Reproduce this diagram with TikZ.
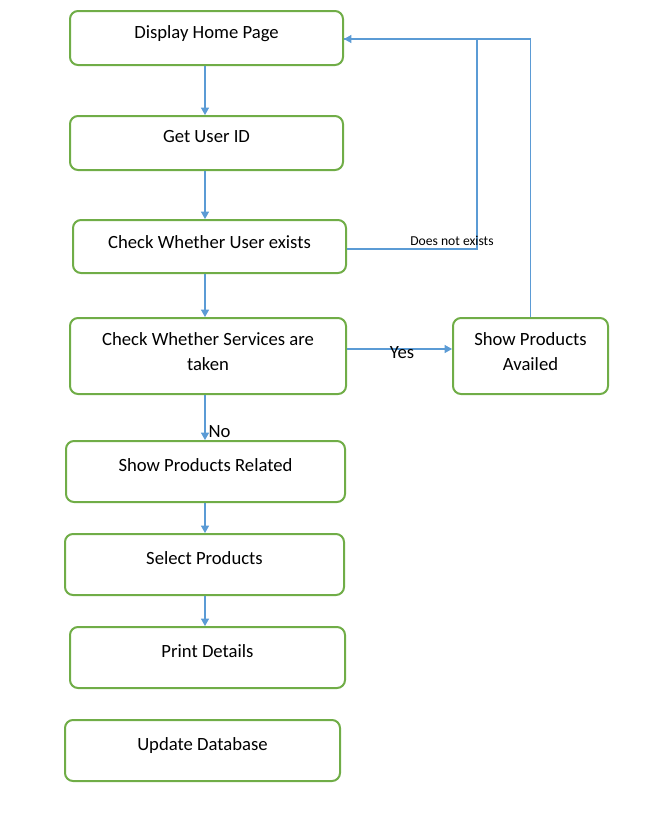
\documentclass[tikz,border=0pt]{standalone}
\usepackage{fontspec}
\setmainfont{Carlito}
\usetikzlibrary{arrows.meta}
\definecolor{boxgreen}{HTML}{70AD47}
\definecolor{linkblue}{HTML}{5B9BD5}
\tikzset{
  stepbox/.style={draw=boxgreen, line width=1.5pt, rounded corners=6pt},
  link/.style={draw=linkblue, line width=0.8pt},
  tip/.style={-{Triangle[length=5.5pt,width=6pt]}},
  steptext/.style={font=\fontsize{14}{18.75}\selectfont, align=center}
}

\begin{document}
\begin{tikzpicture}[x=0.75pt, y=-0.75pt]
  \useasboundingbox (0,0) rectangle (651,825);
  \coordinate (spine) at (205,0);
  \coordinate (turn) at (477,0);

  % boxes
  \node[stepbox, minimum width=204.75pt, minimum height=40.5pt] (home) at (206.5,38) {};
  \node[stepbox, minimum width=204.75pt, minimum height=40.5pt] (userid) at (206.5,143) {};
  \node[stepbox, minimum width=204.75pt, minimum height=39.75pt] (exists) at (209.5,246.5) {};
  \node[stepbox, minimum width=207pt, minimum height=57pt] (services) at (208,356) {};
  \node[stepbox, minimum width=116.25pt, minimum height=57pt] (availed) at (530.5,356) {};
  \node[stepbox, minimum width=209.25pt, minimum height=45.75pt] (related) at (205.5,471.5) {};
  \node[stepbox, minimum width=209.25pt, minimum height=45.75pt] (select) at (204.5,564.5) {};
  \node[stepbox, minimum width=206.25pt, minimum height=45.75pt] (print) at (207.5,657.5) {};
  \node[stepbox, minimum width=206.25pt, minimum height=45.75pt] (update) at (202.5,750.5) {};

  % texts
  \node[steptext] (homeText) at ([yshift=3pt]home.center) {Display Home Page};
  \node[steptext] (useridText) at ([yshift=4.5pt]userid.center) {Get User ID};
  \node[steptext] (existsText) at ([yshift=3.5pt]exists.center) {Check Whether User exists};
  \node[steptext] (servicesText) at ([yshift=3pt]services.center) {Check Whether Services are\\taken};
  \node[steptext] (availedText) at ([yshift=3pt]availed.center) {Show Products\\Availed};
  \node[steptext] (relatedText) at ([yshift=4.5pt]related.center) {Show Products Related};
  \node[steptext] (selectText) at ([yshift=4.5pt]select.center) {Select Products};
  \node[steptext] (printText) at ([yshift=4.5pt]print.center) {Print Details};
  \node[steptext] (updateText) at ([yshift=3.5pt]update.center) {Update Database};

  % main flow
  \draw[link, tip] (home.south -| spine) -- (userid.north -| spine);
  \draw[link, tip] (userid.south -| spine) -- (exists.north -| spine);
  \draw[link, tip] (exists.south -| spine) -- (services.north -| spine);
  \draw[link, tip] (services.south -| spine) -- (related.north -| spine);
  \draw[link, tip] (related.south -| spine) -- (select.north -| spine);
  \draw[link, tip] (select.south -| spine) -- (print.north -| spine);
  \node[font=\fontsize{14}{16}\selectfont, anchor=west, inner sep=1pt] (noText) at (207,431.5) {No};

  % branches
  \draw[link, tip] (services.east |- 0,349) -- (availed.west |- 0,349);
  \node[font=\fontsize{14}{16}\selectfont] (yesText) at (402,353) {Yes};
  \draw[link] (availed.north) |- (home.east |- 0,39);
  \draw[link, tip] (exists.east |- 0,249) -| (turn |- 0,39) -- (home.east |- 0,39);
  \node[font=\fontsize{10.2}{12}\selectfont] (notText) at (452,241) {Does not exists};
\end{tikzpicture}
\end{document}
